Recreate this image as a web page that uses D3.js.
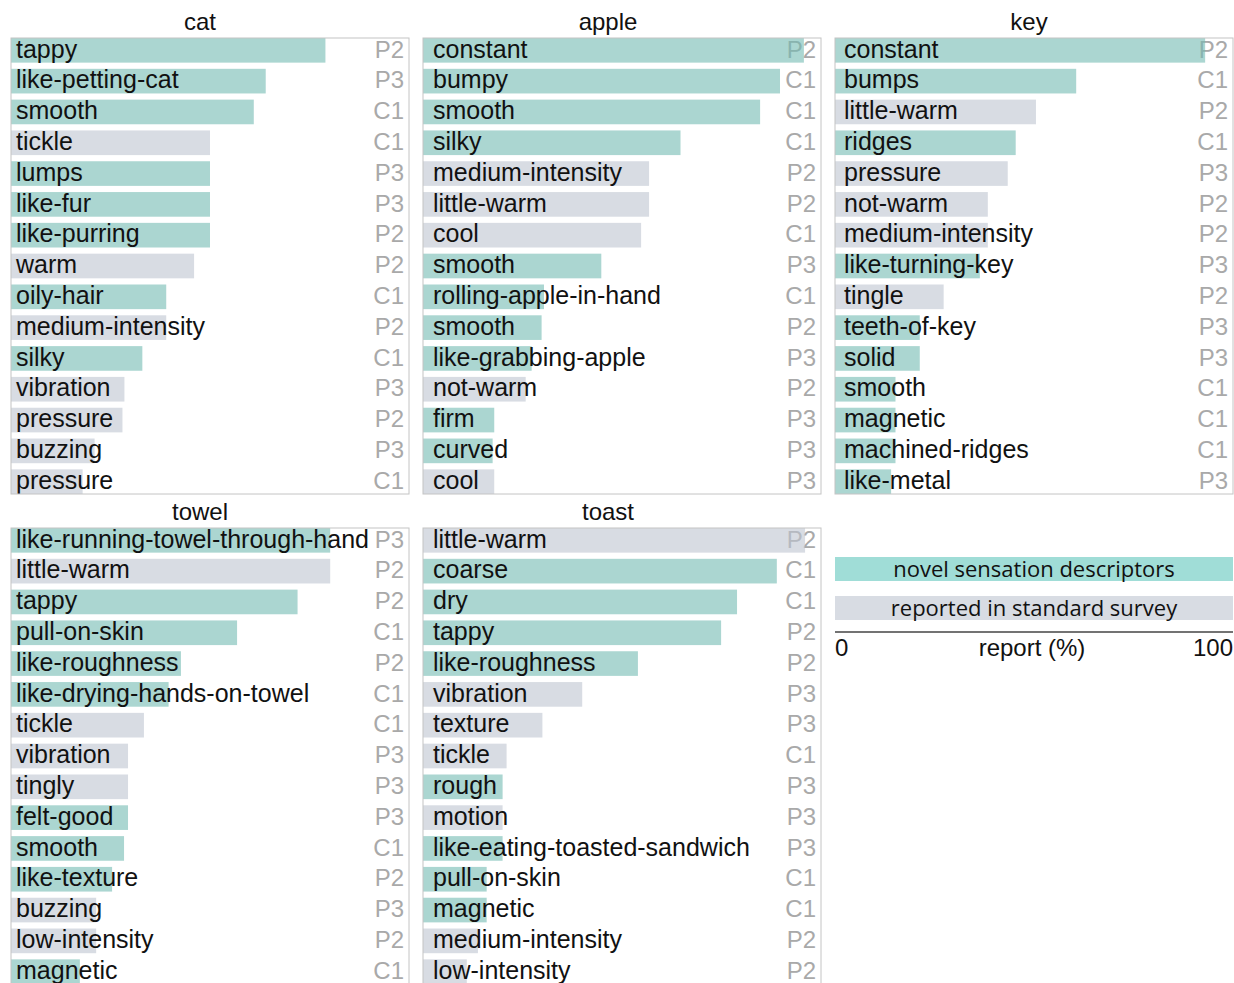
<!DOCTYPE html>
<html>
<head>
<meta charset="utf-8">
<script src="https://cdn.jsdelivr.net/npm/d3@7"></script>
<style>
  body { margin: 0; background: #fff; }
  svg { display: block; }
  text { font-family: "Liberation Sans", Arial, Helvetica, sans-serif; }
</style>
</head>
<body>
<svg width="1234" height="983"></svg>
<script>
// ---- data (report %) ----
var catLabels = ["tappy", "like-petting-cat", "smooth", "tickle", "lumps", "like-fur", "like-purring", "warm", "oily-hair", "medium-intensity", "silky", "vibration", "pressure", "buzzing", "pressure"];
var catValues = [79, 64, 61, 50, 50, 50, 50, 46, 39, 39, 33, 28.5, 28, 21, 18];
var catNovel  = [1, 1, 1, 0, 1, 1, 1, 0, 1, 0, 1, 0, 0, 0, 0];
var catCodes  = ["P2", "P3", "C1", "C1", "P3", "P3", "P2", "P2", "C1", "P2", "C1", "P3", "P2", "P3", "C1"];

var appleLabels = ["constant", "bumpy", "smooth", "silky", "medium-intensity", "little-warm", "cool", "smooth", "rolling-apple-in-hand", "smooth", "like-grabbing-apple", "not-warm", "firm", "curved", "cool"];
var appleValues = [95.7, 89.7, 84.7, 64.7, 56.8, 56.8, 54.8, 44.8, 30.4, 29.8, 27.3, 25.8, 17.9, 17.5, 17.9];
var appleNovel  = [1, 1, 1, 1, 0, 0, 0, 1, 1, 1, 1, 0, 1, 1, 0];
var appleCodes  = ["P2", "C1", "C1", "C1", "P2", "P2", "C1", "P3", "C1", "P2", "P3", "P2", "P3", "P3", "P3"];

var keyLabels = ["constant", "bumps", "little-warm", "ridges", "pressure", "not-warm", "medium-intensity", "like-turning-key", "tingle", "teeth-of-key", "solid", "smooth", "magnetic", "machined-ridges", "like-metal"];
var keyValues = [93, 60.6, 50.5, 45.4, 43.4, 38.4, 38.4, 36.4, 27.3, 21.3, 21.3, 15.2, 15.2, 15.2, 14.1];
var keyNovel  = [1, 1, 0, 1, 0, 0, 0, 1, 0, 1, 1, 1, 1, 1, 1];
var keyCodes  = ["P2", "C1", "P2", "C1", "P3", "P2", "P2", "P3", "P2", "P3", "P3", "C1", "C1", "C1", "P3"];

var towelLabels = ["like-running-towel-through-hand", "little-warm", "tappy", "pull-on-skin", "like-roughness", "like-drying-hands-on-towel", "tickle", "vibration", "tingly", "felt-good", "smooth", "like-texture", "buzzing", "low-intensity", "magnetic"];
var towelValues = [80.2, 80.2, 72, 56.8, 42.7, 39.6, 33.4, 29.4, 29.4, 29.4, 28.4, 25.4, 21.4, 21.4, 17.3];
var towelNovel  = [1, 0, 1, 1, 1, 1, 0, 0, 0, 1, 1, 1, 0, 0, 1];
var towelCodes  = ["P3", "P2", "P2", "C1", "P2", "C1", "C1", "P3", "P3", "P3", "C1", "P2", "P3", "P2", "C1"];

var toastLabels = ["little-warm", "coarse", "dry", "tappy", "like-roughness", "vibration", "texture", "tickle", "rough", "motion", "like-eating-toasted-sandwich", "pull-on-skin", "magnetic", "medium-intensity", "low-intensity"];
var toastValues = [96, 88.9, 78.9, 74.9, 54, 40, 30, 21, 20, 20, 20, 16, 16, 13.8, 11];
var toastNovel  = [0, 1, 1, 1, 1, 0, 0, 0, 1, 0, 1, 1, 1, 0, 0];
var toastCodes  = ["P2", "C1", "C1", "P2", "P2", "P3", "P3", "C1", "P3", "P3", "P3", "C1", "C1", "P2", "P2"];

var legendLabels = ["novel sensation descriptors", "reported in standard survey"];
var axisTicks = [0, 100];

var panels = [
    { name: "cat",   labels: catLabels,   values: catValues,   novel: catNovel,   codes: catCodes },
    { name: "apple", labels: appleLabels, values: appleValues, novel: appleNovel, codes: appleCodes },
    { name: "key",   labels: keyLabels,   values: keyValues,   novel: keyNovel,   codes: keyCodes },
    { name: "towel", labels: towelLabels, values: towelValues, novel: towelNovel, codes: towelCodes },
    { name: "toast", labels: toastLabels, values: toastValues, novel: toastNovel, codes: toastCodes }
];

var svg = d3.select("svg");

var panelW = 398,
    panelH = 456,
    colX = [11, 423, 835],
    rowY = [38, 528],
    labelPad = [5, 10, 9],
    titleX = [189, 185, 194];

var novelColor = "#73bbb2",
    surveyColor = "#bec5d0",
    barOpacity = 0.6;

var x = d3.scaleLinear().domain([0, 100]).range([0, panelW]);

panels.forEach(function (p, i) {
    var col = i % 3, row = Math.floor(i / 3);
    var g = svg.append("g")
        .attr("transform", "translate(" + colX[col] + "," + rowY[row] + ")");

    var y = d3.scaleBand()
        .domain(d3.range(p.labels.length))
        .range([0, panelH])
        .paddingInner(0.2)
        .paddingOuter(0);

    g.append("text")
        .attr("x", titleX[col])
        .attr("y", -8)
        .attr("text-anchor", "middle")
        .attr("font-size", 24)
        .attr("fill", "#111")
        .text(p.name);

    // participant codes sit under the translucent bars
    g.selectAll("text.code")
        .data(p.codes)
        .enter().append("text")
        .attr("class", "code")
        .attr("x", panelW - 5)
        .attr("y", function (d, j) { return y(j) + y.bandwidth() / 2; })
        .attr("dy", "0.3em")
        .attr("text-anchor", "end")
        .attr("font-size", 24)
        .attr("fill", "#a9a9a9")
        .text(function (d) { return d; });

    g.selectAll("rect.bar")
        .data(p.values)
        .enter().append("rect")
        .attr("class", "bar")
        .attr("x", 0)
        .attr("y", function (d, j) { return y(j); })
        .attr("width", function (d) { return x(d); })
        .attr("height", y.bandwidth())
        .attr("fill", function (d, j) { return p.novel[j] ? novelColor : surveyColor; })
        .attr("fill-opacity", barOpacity);

    g.selectAll("text.lab")
        .data(p.labels)
        .enter().append("text")
        .attr("class", "lab")
        .attr("x", labelPad[col])
        .attr("y", function (d, j) { return y(j) + y.bandwidth() / 2; })
        .attr("dy", "0.29em")
        .attr("font-size", 25)
        .attr("fill", "#111")
        .text(function (d) { return d; });

    g.append("rect")
        .attr("x", 0)
        .attr("y", 0)
        .attr("width", panelW)
        .attr("height", panelH)
        .attr("fill", "none")
        .attr("stroke", "#c4c4c4")
        .attr("stroke-width", 1);
});

// ---- legend ----
var lg = svg.append("g").attr("transform", "translate(" + colX[2] + ",0)");
var legendY = [557, 596];
var legendFill = ["#a0ddd7", "#d8dce3"];

lg.selectAll("rect.leg")
    .data(legendLabels)
    .enter().append("rect")
    .attr("class", "leg")
    .attr("x", 0)
    .attr("y", function (d, i) { return legendY[i]; })
    .attr("width", panelW)
    .attr("height", 24)
    .attr("fill", function (d, i) { return legendFill[i]; });

lg.selectAll("text.leg")
    .data(legendLabels)
    .enter().append("text")
    .attr("class", "leg")
    .attr("x", panelW / 2)
    .attr("y", function (d, i) { return legendY[i] + 12; })
    .attr("dy", "0.36em")
    .attr("text-anchor", "middle")
    .attr("font-size", 22)
    .style("font-family", "'Open Sans', 'Noto Sans', sans-serif")
    .attr("fill", "#111")
    .text(function (d) { return d; });

lg.append("line")
    .attr("x1", x(0)).attr("x2", x(100))
    .attr("y1", 632).attr("y2", 632)
    .attr("stroke", "#444")
    .attr("stroke-width", 1.5);

lg.selectAll("text.tick")
    .data(axisTicks)
    .enter().append("text")
    .attr("class", "tick")
    .attr("x", function (d) { return x(d); })
    .attr("y", 656)
    .attr("text-anchor", function (d, i) { return i === 0 ? "start" : "end"; })
    .attr("font-size", 24)
    .attr("fill", "#111")
    .text(function (d) { return d; });

lg.append("text")
    .attr("x", 197)
    .attr("y", 656)
    .attr("text-anchor", "middle")
    .attr("font-size", 24)
    .attr("fill", "#111")
    .text("report (%)");
</script>
</body>
</html>
